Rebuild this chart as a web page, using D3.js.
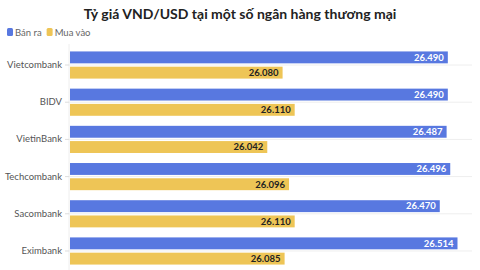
<!DOCTYPE html>
<html>
<head>
<meta charset="utf-8">
<script src="https://cdn.jsdelivr.net/npm/d3@7"></script>
<style>
  html, body { margin: 0; padding: 0; background: #fff; }
  svg text { font-family: Lato, 'Noto Sans', sans-serif; }
</style>
</head>
<body>
<script>
const banks = ['Vietcombank', 'BIDV', 'VietinBank', 'Techcombank', 'Sacombank', 'Eximbank']
const banRa = [26490, 26490, 26487, 26496, 26470, 26514]
const muaVao = [26080, 26110, 26042, 26096, 26110, 26085]
const seriesNames = ['Bán ra', 'Mua vào']

const width = 480
const height = 270
const colors = {
  'Bán ra': '#5878e0',
  'Mua vào': '#eec556'
}
const margin = { top: 44, right: 8, bottom: -2, left: 69 }
const font = 'Lato, "Noto Sans", sans-serif'

const data = banks.map((b, i) => ({ bank: b, values: [
  { key: seriesNames[0], value: banRa[i] },
  { key: seriesNames[1], value: muaVao[i] }
] }))

const fmt = d3.formatLocale({ decimal: ',', thousands: '.', grouping: [3], currency: ['', ''] }).format(',d')

const svg = d3.select('body').append('svg')
  .attr('width', width)
  .attr('height', height)

// title
svg.append('text')
  .attr('x', width / 2)
  .attr('y', 19)
  .attr('text-anchor', 'middle')
  .attr('font-size', 14)
  .attr('font-weight', 700)
  .attr('fill', '#222')
  .text('Tỷ giá VND/USD tại một số ngân hàng thương mại')

// legend
const legend = svg.append('g').attr('transform', 'translate(7, 28)')
let lx = 0
seriesNames.forEach(name => {
  const g = legend.append('g').attr('transform', `translate(${lx}, 0)`)
  g.append('rect').attr('width', 6).attr('height', 8).attr('rx', 1.5).attr('fill', colors[name])
  const t = g.append('text').attr('x', 8).attr('y', 7.5).attr('font-size', 9.5).attr('fill', '#666').text(name)
  lx += 8 + t.node().getComputedTextLength() + 5
})

const x = d3.scaleLinear()
  .domain([25550, 26550])
  .range([margin.left, width - margin.right])

const y0 = d3.scaleBand()
  .domain(banks)
  .range([margin.top, height - margin.bottom])
  .paddingInner(0.27)
  .paddingOuter(0.2)

const y1 = d3.scaleBand()
  .domain(seriesNames)
  .range([0, y0.bandwidth()])
  .paddingInner(0.22)

// gridlines
svg.append('g')
  .selectAll('line')
  .data(banks)
  .join('line')
  .attr('x1', margin.left)
  .attr('x2', width - margin.right)
  .attr('y1', d => y0(d) + y0.bandwidth() / 2)
  .attr('y2', d => y0(d) + y0.bandwidth() / 2)
  .attr('stroke', '#eeeeee')

// y axis
const yAxis = svg.append('g')
  .attr('transform', `translate(${margin.left}, 0)`)
  .call(d3.axisLeft(y0).tickSize(4).tickPadding(3))
yAxis.select('.domain').attr('stroke', '#eeeeee').attr('d', `M0,${margin.top}V${height}`)
yAxis.selectAll('.tick line').attr('stroke', '#dddddd')
yAxis.selectAll('.tick text')
  .attr('font-size', 9.5)
  .attr('fill', '#555')
  .style('font-family', font)

// bars
const groups = svg.append('g')
  .selectAll('g')
  .data(data)
  .join('g')
  .attr('transform', d => `translate(0, ${y0(d.bank)})`)

groups.selectAll('rect')
  .data(d => d.values)
  .join('rect')
  .attr('x', x(25550) + 1)
  .attr('y', d => y1(d.key))
  .attr('width', d => x(d.value) - x(25550) - 1)
  .attr('height', y1.bandwidth())
  .attr('fill', d => colors[d.key])

groups.selectAll('text.val')
  .data(d => d.values)
  .join('text')
  .attr('class', 'val')
  .attr('x', d => x(d.value) - 4)
  .attr('y', d => y1(d.key) + y1.bandwidth() / 2)
  .attr('dy', '0.35em')
  .attr('text-anchor', 'end')
  .attr('font-size', 9.5)
  .attr('font-weight', 700)
  .attr('fill', d => d.key === seriesNames[0] ? '#fff' : '#222')
  .text(d => fmt(d.value))
</script>
</body>
</html>
